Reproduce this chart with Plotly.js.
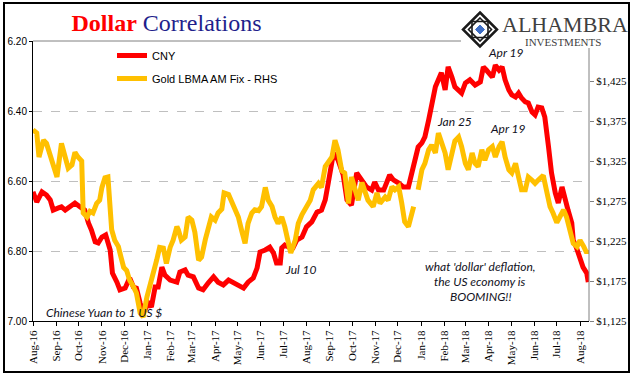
<!DOCTYPE html>
<html>
<head>
<meta charset="utf-8">
<script src="https://cdn.plot.ly/plotly-3.0.1.min.js"></script>
<style>
html,body{margin:0;padding:0;background:#fff;}
#chart{width:641px;height:381px;}
</style>
</head>
<body>
<div id="chart"></div>
<script>
// ---- data ----
var cnyDates = ['2016-08-01','2016-08-06','2016-08-13','2016-08-19','2016-08-24','2016-08-28','2016-09-04','2016-09-08','2016-09-13','2016-09-19','2016-09-26','2016-10-03','2016-10-09','2016-10-14','2016-10-18','2016-10-23','2016-10-27','2016-11-01','2016-11-06','2016-11-12','2016-11-15','2016-11-21','2016-11-25','2016-12-02','2016-12-08','2016-12-13','2016-12-17','2016-12-22','2016-12-26','2017-01-02','2017-01-06','2017-01-11','2017-01-15','2017-01-20','2017-01-24','2017-01-31','2017-02-09','2017-02-13','2017-02-20','2017-02-24','2017-03-03','2017-03-10','2017-03-16','2017-03-23','2017-03-30','2017-04-05','2017-04-12','2017-04-19','2017-04-25','2017-05-02','2017-05-09','2017-05-15','2017-05-22','2017-05-27','2017-05-31','2017-06-07','2017-06-13','2017-06-18','2017-06-22','2017-06-27','2017-06-29','2017-07-03','2017-07-10','2017-07-14','2017-07-19','2017-07-26','2017-08-01','2017-08-08','2017-08-15','2017-08-21','2017-08-26','2017-08-30','2017-09-06','2017-09-12','2017-09-19','2017-09-24','2017-09-30','2017-10-07','2017-10-14','2017-10-20','2017-10-27','2017-10-31','2017-11-05','2017-11-12','2017-11-20','2017-11-25','2017-12-02','2017-12-08','2017-12-15','2017-12-19','2017-12-24','2017-12-28','2018-01-02','2018-01-06','2018-01-11','2018-01-15','2018-01-20','2018-01-24','2018-01-28','2018-02-02','2018-02-06','2018-02-11','2018-02-15','2018-02-24','2018-03-01','2018-03-07','2018-03-14','2018-03-21','2018-03-25','2018-03-29','2018-04-06','2018-04-10','2018-04-15','2018-04-19','2018-04-23','2018-04-28','2018-05-02','2018-05-07','2018-05-11','2018-05-15','2018-05-20','2018-05-24','2018-05-29','2018-06-02','2018-06-06','2018-06-11','2018-06-15','2018-06-20','2018-06-24','2018-06-29','2018-07-03','2018-07-08','2018-07-12','2018-07-16','2018-07-21','2018-07-23','2018-07-27','2018-08-01','2018-08-05','2018-08-10','2018-08-12'];
var cnyValues = [6.631,6.660,6.631,6.640,6.654,6.683,6.677,6.674,6.683,6.674,6.663,6.674,6.683,6.720,6.740,6.774,6.777,6.760,6.754,6.797,6.863,6.889,6.911,6.906,6.877,6.903,6.906,6.949,6.977,6.949,6.960,6.903,6.903,6.846,6.869,6.883,6.889,6.860,6.854,6.869,6.874,6.906,6.911,6.891,6.874,6.889,6.897,6.883,6.889,6.897,6.906,6.889,6.877,6.849,6.803,6.797,6.789,6.806,6.834,6.834,6.791,6.783,6.791,6.791,6.769,6.760,6.731,6.717,6.689,6.683,6.654,6.606,6.520,6.540,6.583,6.654,6.669,6.577,6.597,6.617,6.626,6.603,6.626,6.626,6.583,6.597,6.606,6.617,6.617,6.577,6.540,6.503,6.491,6.474,6.426,6.389,6.331,6.311,6.291,6.340,6.274,6.303,6.331,6.349,6.320,6.311,6.326,6.317,6.274,6.283,6.303,6.269,6.283,6.274,6.311,6.340,6.354,6.360,6.349,6.363,6.374,6.377,6.403,6.411,6.389,6.391,6.417,6.503,6.577,6.634,6.663,6.617,6.654,6.683,6.720,6.769,6.789,6.817,6.846,6.863,6.889];

var goldDates = ['2016-08-01','2016-08-06','2016-08-09','2016-08-15','2016-08-19','2016-08-24','2016-08-28','2016-09-02','2016-09-08','2016-09-13','2016-09-17','2016-09-22','2016-09-26','2016-09-30','2016-10-05','2016-10-07','2016-10-12','2016-10-16','2016-10-20','2016-10-25','2016-10-29','2016-11-01','2016-11-05','2016-11-09','2016-11-14','2016-11-18','2016-11-23','2016-11-25','2016-11-30','2016-12-04','2016-12-08','2016-12-13','2016-12-17','2016-12-22','2016-12-26','2016-12-31','2017-01-04','2017-01-09','2017-01-13','2017-01-17','2017-01-22','2017-01-26','2017-01-31','2017-02-04','2017-02-09','2017-02-11','2017-02-15','2017-02-20','2017-02-24','2017-03-01','2017-03-05','2017-03-10','2017-03-14','2017-03-19','2017-03-23','2017-03-27','2017-04-01','2017-04-05','2017-04-10','2017-04-13','2017-04-19','2017-04-23','2017-04-28','2017-05-02','2017-05-07','2017-05-11','2017-05-15','2017-05-20','2017-05-24','2017-05-29','2017-06-02','2017-06-07','2017-06-11','2017-06-16','2017-06-20','2017-06-24','2017-06-29','2017-07-03','2017-07-08','2017-07-11','2017-07-17','2017-07-21','2017-07-26','2017-08-01','2017-08-06','2017-08-10','2017-08-17','2017-08-21','2017-08-26','2017-09-04','2017-09-08','2017-09-12','2017-09-17','2017-09-21','2017-09-26','2017-09-30','2017-10-05','2017-10-09','2017-10-14','2017-10-18','2017-10-22','2017-10-29','2017-11-03','2017-11-07','2017-11-14','2017-11-18','2017-11-23','2017-11-27','2017-12-02','2017-12-06','2017-12-10','2017-12-15','2017-12-19','2017-12-22','2017-12-25','2017-12-28','2018-01-02','2018-01-06','2018-01-11','2018-01-15','2018-01-20','2018-01-24','2018-01-28','2018-02-02','2018-02-06','2018-02-11','2018-02-15','2018-02-20','2018-02-24','2018-03-01','2018-03-05','2018-03-10','2018-03-14','2018-03-18','2018-03-23','2018-03-27','2018-04-01','2018-04-06','2018-04-10','2018-04-15','2018-04-19','2018-04-23','2018-04-28','2018-05-02','2018-05-07','2018-05-11','2018-05-15','2018-05-20','2018-05-24','2018-05-29','2018-06-02','2018-06-06','2018-06-13','2018-06-18','2018-06-22','2018-06-26','2018-07-01','2018-07-05','2018-07-10','2018-07-14','2018-07-19','2018-07-23','2018-07-28','2018-08-01','2018-08-06','2018-08-10','2018-08-12'];
var goldValues = [1364,1360,1330,1351,1347,1330,1322,1305,1347,1327,1316,1320,1336,1330,1325,1260,1255,1262,1260,1272,1276,1292,1304,1305,1239,1226,1218,1210,1192,1188,1176,1168,1160,1135,1130,1155,1168,1185,1201,1217,1216,1197,1217,1226,1243,1239,1226,1230,1255,1251,1236,1201,1205,1227,1243,1255,1251,1260,1265,1285,1283,1275,1264,1255,1236,1222,1247,1260,1264,1263,1268,1292,1276,1268,1255,1247,1255,1243,1222,1210,1226,1247,1258,1268,1276,1289,1297,1292,1318,1330,1351,1339,1313,1310,1272,1305,1289,1276,1298,1289,1276,1268,1285,1272,1280,1276,1293,1289,1293,1273,1249,1243,1260,1268,null,1289,1314,1322,1339,1345,1335,1360,1347,1335,1314,1335,1350,1355,1343,1322,1314,1335,1322,1318,1339,1326,1339,1343,1330,1343,1349,1330,1314,1310,1322,1305,1289,1289,1305,1301,1297,1301,1307,1285,1268,1260,1248,1255,1264,1255,1239,1222,1218,1226,1218,1210,1214];

var seriesNames = ['CNY', 'Gold LBMA AM Fix - RHS'];
var leftTicks = [6.2, 6.4, 6.6, 6.8, 7.0];
var rightTicks = [1125, 1175, 1225, 1275, 1325, 1375, 1425];
var rightTickText = rightTicks.map(function(v){ return '$' + v.toLocaleString('en-US'); });

// ---- pixel helpers for decorations (plot area: x 33..589, y 41..321) ----
var L = 33, R = 589, T = 41, B = 321;
function px(x){ return (x - L) / (R - L); }
function py(y){ return (B - y) / (B - T); }
function pathP(pts){ return 'M' + pts.map(function(p){ return px(p[0]) + ',' + py(p[1]); }).join('L') + 'Z'; }

var cx = 480, cy = 29.5;
function diamond(r){ return pathP([[cx, cy - r],[cx + r, cy],[cx, cy + r],[cx - r, cy]]); }
function square(r){ return pathP([[cx - r, cy - r],[cx + r, cy - r],[cx + r, cy + r],[cx - r, cy + r]]); }

var annFont = {family: 'Lato, "Open Sans", sans-serif', size: 12, color: '#111122'};
function ann(text, x, y){
  return {text: '<i>' + text + '</i>', xref: 'paper', yref: 'paper', x: px(x), y: py(y),
          xanchor: 'center', yanchor: 'middle', showarrow: false, font: annFont};
}

var traces = [
  {x: cnyDates, y: cnyValues, name: seriesNames[0], type: 'scatter', mode: 'lines',
   line: {color: '#FF0000', width: 5}, yaxis: 'y', legendgroup: 'a'},
  {x: goldDates, y: goldValues, name: seriesNames[1], type: 'scatter', mode: 'lines',
   line: {color: '#FFC000', width: 5}, yaxis: 'y2', connectgaps: false, legendgroup: 'b'}
];

var layout = {
  width: 641, height: 381,
  margin: {l: L, r: 641 - R, t: T, b: 381 - B, pad: 0},
  paper_bgcolor: '#ffffff', plot_bgcolor: '#ffffff',
  title: {
    text: '<b><span style="color:#FF0000">Dollar</span></b> <span style="color:#1F1F8C">Correlations</span>',
    font: {family: '"Liberation Serif", "Times New Roman", serif', size: 24},
    xref: 'container', yref: 'container', x: 166.5 / 641, y: 1 - 23 / 381,
    xanchor: 'center', yanchor: 'middle'
  },
  showlegend: true,
  legend: {x: px(112), y: py(41), xanchor: 'left', yanchor: 'top',
           bgcolor: 'rgba(0,0,0,0)', borderwidth: 0, tracegroupgap: 4,
           font: {family: '"Liberation Sans", Arial, sans-serif', size: 11, color: '#000'},
           itemwidth: 30},
  xaxis: {
    type: 'date', range: ['2016-08-01', '2018-08-13'],
    tick0: '2016-08-01', dtick: 'M1', tickformat: '%b-%y', tickangle: -90,
    ticks: 'outside', ticklen: 4, tickcolor: '#000', tickwidth: 1,
    showline: true, linecolor: '#000', linewidth: 1, showgrid: false, zeroline: false,
    tickfont: {family: '"Liberation Serif", "Times New Roman", serif', size: 11, color: '#000'}
  },
  yaxis: {
    range: [7.0, 6.2], tickvals: leftTicks, tickformat: '.2f',
    ticks: 'outside', ticklen: 3, tickcolor: '#000',
    showline: true, linecolor: '#000', linewidth: 1,
    showgrid: true, gridcolor: '#BFBFBF', griddash: 'dash', gridwidth: 1, zeroline: false,
    tickfont: {family: '"Liberation Sans", Arial, sans-serif', size: 10, color: '#000'}
  },
  yaxis2: {
    overlaying: 'y', side: 'right', range: [1125, 1475],
    tickmode: 'array', tickvals: rightTicks, ticktext: rightTickText,
    ticks: 'outside', ticklen: 4, tickcolor: '#808080',
    showline: false, showgrid: false, zeroline: false,
    tickfont: {family: '"Liberation Serif", "Times New Roman", serif', size: 11, color: '#000'}
  },
  shapes: [
    {type: 'line', xref: 'paper', yref: 'paper', x0: 0, x1: px(461), y0: 1, y1: 1, line: {color: '#808080', width: 1}},
    {type: 'line', xref: 'paper', yref: 'paper', x0: 1, x1: 1, y0: 0, y1: py(48), line: {color: '#808080', width: 1}},
    {type: 'rect', xref: 'paper', yref: 'paper', x0: px(4), x1: px(629), y0: py(372), y1: py(3), line: {color: '#000', width: 2}, fillcolor: 'rgba(0,0,0,0)'},
    {type: 'path', xref: 'paper', yref: 'paper', path: diamond(17), line: {color: '#1a1a1a', width: 2.5}, fillcolor: 'rgba(0,0,0,0)'},
    {type: 'path', xref: 'paper', yref: 'paper', path: diamond(11.5), line: {color: '#1a1a1a', width: 1.6}, fillcolor: 'rgba(0,0,0,0)'},
    {type: 'path', xref: 'paper', yref: 'paper', path: square(8), line: {color: '#1a1a1a', width: 1.6}, fillcolor: 'rgba(0,0,0,0)'},
    {type: 'path', xref: 'paper', yref: 'paper', path: diamond(4.5), line: {color: '#3F6FC6', width: 1}, fillcolor: '#3F6FC6'}
  ],
  annotations: [
    {text: 'ALHAMBRA', xref: 'paper', yref: 'paper', x: px(500), y: py(25), xanchor: 'left', yanchor: 'middle', showarrow: false,
     font: {family: '"Liberation Serif", "Times New Roman", serif', size: 22, color: '#404040'}},
    {text: 'INVESTMENTS', xref: 'paper', yref: 'paper', x: px(563), y: py(42), xanchor: 'center', yanchor: 'middle', showarrow: false,
     font: {family: '"Liberation Serif", "Times New Roman", serif', size: 11, color: '#404040'}},
    ann('Apr 19', 506, 53),
    ann('Jan 25', 454, 121),
    ann('Apr 19', 508, 128),
    ann('Jul 10', 300, 269),
    ann('Chinese Yuan to 1 US $', 104, 312),
    ann('what \'dollar\' deflation,', 480, 266),
    ann('the US economy is', 480, 281),
    ann('BOOMING!!', 480, 296)
  ]
};

Plotly.newPlot('chart', traces, layout, {displayModeBar: false, staticPlot: true});
</script>
</body>
</html>
